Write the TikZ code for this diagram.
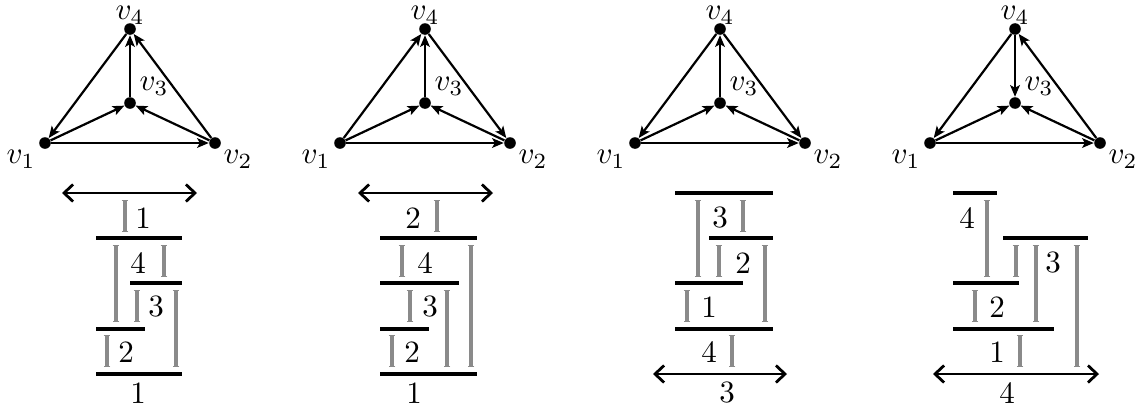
\documentclass[tikz,border=0pt]{standalone}
\usetikzlibrary{arrows.meta}
\definecolor{bargray}{RGB}{138,138,138}
\tikzset{
  vtx/.style={circle,fill=black,inner sep=0pt,minimum size=5.8pt},
  lbl/.style={inner sep=0pt,scale=1.55},
  num/.style={inner sep=0pt,scale=1.55},
  edge/.style={line width=1.1pt,-{Stealth[length=5.8pt,width=4.8pt,inset=1.3pt]}},
  blackbar/.style={line width=1.7pt,line cap=butt},
  graybar/.style={line width=1.6pt,draw=bargray,{Bar[width=3.4pt,line width=0.7pt]}-{Bar[width=3.4pt,line width=0.7pt]}},
  dbl/.style={line width=1.4pt,{Straight Barb[length=4.5pt,width=8.5pt,line width=1.4pt]}-{Straight Barb[length=4.5pt,width=8.5pt,line width=1.4pt]}}
}
\newcommand\vgraph[2]{%
  \node[vtx] (#1a) at (#2-85,143) {};
  \node[vtx] (#1b) at (#2+85,143) {};
  \node[vtx] (#1c) at (#2,103) {};
  \node[vtx] (#1d) at (#2,29) {};
  \node[lbl] (#1la) at (#2-109,159) {$v_1$};
  \node[lbl] (#1lb) at (#2+108,159) {$v_2$};
  \node[lbl] (#1lc) at (#2+24,86) {$v_3$};
  \node[lbl] (#1ld) at (#2,15.5) {$v_4$};
}
\begin{document}
\begin{tikzpicture}[x=0.5pt,y=-0.5pt]
\useasboundingbox (0,0) rectangle (1138,413);
% ---------- panel 1 ----------
\vgraph{A}{130}
\draw[edge] (Ad) -- (Aa);
\draw[edge] (Aa) -- (Ac);
\draw[edge] (Ab) -- (Ac);
\draw[edge] (Ac) -- (Ad);
\draw[edge] (Ab) -- (Ad);
\draw[edge] (Aa) -- (Ab);
\coordinate (A1l) at (62,193); \coordinate (A1r) at (197,193);
\draw[dbl] (A1l) -- (A1r);
\draw[graybar] (125,200) -- (125,232);
\node[num] (An1) at (143,218) {1};
\draw[blackbar] (96,238) -- (182,238);
\draw[graybar] (116,245) -- (116,322);
\node[num] (An2) at (138,263) {4};
\draw[graybar] (164,245) -- (164,277);
\draw[blackbar] (130,283) -- (182,283);
\draw[graybar] (137,290) -- (137,322);
\node[num] (An3) at (156,307) {3};
\draw[graybar] (176,290) -- (176,367);
\draw[blackbar] (96,329) -- (145,329);
\draw[graybar] (107,335) -- (107,367);
\node[num] (An4) at (126,352) {2};
\draw[blackbar] (96,374) -- (182,374);
\node[num] (An5) at (138,393) {1};
% ---------- panel 2 ----------
\vgraph{B}{425}
\draw[edge] (Ba) -- (Bd);
\draw[edge] (Bd) -- (Bb);
\draw[edge] (Ba) -- (Bc);
\draw[edge] (Bb) -- (Bc);
\draw[edge] (Bc) -- (Bd);
\draw[edge] (Ba) -- (Bb);
\coordinate (B1l) at (358,193); \coordinate (B1r) at (493,193);
\draw[dbl] (B1l) -- (B1r);
\node[num] (Bn1) at (413,218) {2};
\draw[graybar] (437,200) -- (437,232);
\draw[blackbar] (380,238) -- (477,238);
\draw[graybar] (402,245) -- (402,277);
\node[num] (Bn2) at (425,263) {4};
\draw[graybar] (471,245) -- (471,367);
\draw[blackbar] (380,283) -- (459,283);
\draw[graybar] (410,290) -- (410,322);
\node[num] (Bn3) at (430,307) {3};
\draw[graybar] (447,290) -- (447,367);
\draw[blackbar] (380,329) -- (429,329);
\draw[graybar] (392,335) -- (392,367);
\node[num] (Bn4) at (412,352) {2};
\draw[blackbar] (380,374) -- (477,374);
\node[num] (Bn5) at (414,393) {1};
% ---------- panel 3 ----------
\vgraph{C}{720}
\draw[edge] (Cd) -- (Ca);
\draw[edge] (Cd) -- (Cb);
\draw[edge] (Cc) -- (Cd);
\draw[edge] (Ca) -- (Cc);
\draw[edge] (Cb) -- (Cc);
\draw[edge] (Ca) -- (Cb);
\draw[blackbar] (675,193) -- (773,193);
\draw[graybar] (698,200) -- (698,277);
\node[num] (Cn1) at (720,218) {3};
\draw[graybar] (743,200) -- (743,232);
\draw[blackbar] (709,238) -- (773,238);
\draw[graybar] (719,245) -- (719,277);
\node[num] (Cn2) at (743,263) {2};
\draw[graybar] (765,245) -- (765,322);
\draw[blackbar] (675,283) -- (743,283);
\draw[graybar] (687,290) -- (687,322);
\node[num] (Cn3) at (709,307) {1};
\draw[blackbar] (675,329) -- (773,329);
\node[num] (Cn4) at (709,352) {4};
\draw[graybar] (732,335) -- (732,367);
\coordinate (C1l) at (653,374); \coordinate (C1r) at (787,374);
\draw[dbl] (C1l) -- (C1r);
\node[num] (Cn5) at (727,393) {3};
% ---------- panel 4 ----------
\vgraph{D}{1015}
\draw[edge] (Dd) -- (Da);
\draw[edge] (Db) -- (Dd);
\draw[edge] (Dd) -- (Dc);
\draw[edge] (Da) -- (Dc);
\draw[edge] (Db) -- (Dc);
\draw[edge] (Da) -- (Db);
\draw[blackbar] (953,193) -- (997,193);
\node[num] (Dn1) at (967,218) {4};
\draw[graybar] (987,200) -- (987,277);
\draw[blackbar] (1003,238) -- (1088,238);
\draw[graybar] (1016,245) -- (1016,277);
\draw[graybar] (1036,245) -- (1036,322);
\node[num] (Dn2) at (1053,263) {3};
\draw[graybar] (1077,245) -- (1077,367);
\draw[blackbar] (953,283) -- (1019,283);
\draw[graybar] (975,290) -- (975,322);
\node[num] (Dn3) at (997,307) {2};
\draw[blackbar] (953,329) -- (1054,329);
\node[num] (Dn4) at (997,352) {1};
\draw[graybar] (1020,335) -- (1020,367);
\coordinate (D1l) at (933,374); \coordinate (D1r) at (1099,374);
\draw[dbl] (D1l) -- (D1r);
\node[num] (Dn5) at (1007,393) {4};
\end{tikzpicture}
\end{document}
